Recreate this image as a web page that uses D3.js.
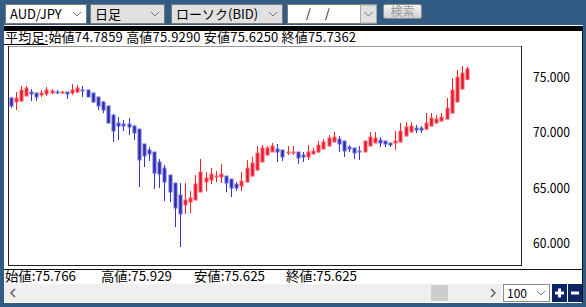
<!DOCTYPE html>
<html>
<head>
<meta charset="utf-8">
<script src="https://cdn.jsdelivr.net/npm/d3@7/dist/d3.min.js"></script>
<style>
  body { margin: 0; background: #335c85; }
  svg { display: block; }
  text { font-family: "Noto Sans CJK JP", "Noto Sans", sans-serif; }
</style>
</head>
<body>
<svg id="chart" width="586" height="307"></svg>
<script>
// Heikin-Ashi (平均足) candles, AUD/JPY daily
var opens = [
  73.11, 72.75, 72.84, 73.29, 73.65, 73.56, 73.38, 73.47, 73.56, 73.65,
  73.56, 73.65, 73.56, 73.65, 73.83, 73.83, 73.56, 73.20, 72.75, 72.39,
  71.57, 70.85, 70.76, 70.76, 70.58, 70.31, 68.96, 68.42, 68.24, 67.34,
  66.79, 66.16, 65.44, 64.36, 63.46, 63.73, 63.91, 64.63, 65.53, 65.71,
  65.98, 65.98, 66.07, 65.80, 65.35, 65.17, 65.53, 66.07, 66.61, 67.34,
  67.97, 68.24, 68.51, 68.42, 68.15, 68.15, 68.24, 67.97, 67.79, 68.06,
  68.24, 68.51, 68.78, 69.14, 69.41, 69.23, 68.69, 68.60, 68.33, 68.24,
  68.78, 69.05, 69.32, 69.23, 69.05, 69.05, 69.14, 69.68, 70.04, 70.40,
  70.40, 70.31, 70.58, 70.85, 71.03, 71.21, 71.75, 72.75, 73.92, 74.786
];
var closes = [
  72.39, 73.11, 73.83, 74.01, 73.47, 73.20, 73.56, 73.83, 73.74, 73.56,
  73.65, 73.47, 73.83, 74.01, 73.74, 73.20, 72.75, 72.39, 72.02, 70.85,
  70.13, 70.58, 70.58, 70.49, 69.95, 67.52, 67.88, 68.06, 66.34, 66.25,
  65.53, 64.63, 63.19, 62.65, 63.91, 64.09, 65.35, 66.43, 65.89, 66.25,
  66.07, 66.25, 65.44, 64.99, 64.99, 65.62, 66.79, 67.25, 68.15, 68.60,
  68.60, 68.78, 68.24, 67.79, 68.24, 68.24, 67.70, 67.79, 68.24, 68.33,
  68.87, 69.14, 69.50, 69.59, 68.96, 68.33, 68.51, 68.15, 68.24, 69.23,
  69.59, 69.50, 69.05, 68.96, 68.87, 69.23, 70.13, 70.49, 70.58, 70.22,
  70.22, 70.85, 71.30, 71.21, 71.39, 72.20, 73.83, 75.00, 75.36, 75.736
];
var highs = [
  73.20, 73.65, 74.19, 74.19, 73.92, 73.56, 73.83, 74.10, 73.92, 73.83,
  73.74, 73.65, 74.37, 74.28, 74.19, 73.83, 73.56, 73.20, 72.84, 72.39,
  71.66, 71.39, 71.12, 71.30, 70.67, 70.31, 68.96, 68.69, 68.24, 67.61,
  67.07, 66.16, 65.44, 65.44, 65.44, 64.72, 66.16, 67.61, 66.43, 66.79,
  66.52, 67.16, 66.07, 65.80, 65.53, 66.43, 67.52, 67.79, 68.78, 68.87,
  68.78, 69.05, 68.96, 68.42, 68.78, 68.78, 68.24, 68.24, 68.87, 68.60,
  69.23, 69.41, 69.77, 70.04, 69.68, 69.23, 68.87, 68.60, 68.78, 69.23,
  70.04, 70.04, 69.59, 69.23, 69.05, 70.13, 70.85, 70.94, 70.94, 70.67,
  70.58, 71.75, 71.75, 71.57, 71.75, 73.11, 74.91, 75.63, 75.99, 75.929
];
var lows = [
  72.20, 72.02, 72.75, 73.29, 72.84, 72.84, 73.20, 73.29, 73.47, 73.47,
  73.47, 73.02, 73.38, 73.56, 73.20, 73.20, 72.66, 72.02, 71.75, 70.85,
  69.14, 69.32, 70.13, 69.77, 69.32, 65.08, 66.88, 67.43, 64.90, 64.99,
  63.82, 63.73, 61.47, 59.67, 62.65, 62.74, 63.91, 64.63, 64.72, 65.35,
  65.53, 65.44, 64.63, 64.18, 64.72, 64.72, 65.53, 66.07, 66.61, 67.34,
  67.97, 68.24, 67.34, 67.43, 67.97, 67.97, 67.16, 67.34, 67.52, 68.06,
  68.15, 68.51, 68.78, 69.14, 68.24, 67.79, 68.24, 67.61, 67.52, 68.24,
  68.78, 69.05, 68.69, 68.69, 68.69, 68.42, 69.14, 69.68, 70.04, 69.95,
  69.95, 70.22, 70.58, 70.85, 71.03, 71.21, 71.75, 72.75, 73.92, 74.786
];

var yTicks = [60, 65, 70, 75];
var slots = 100;   // display count ("100")
var headerText = "平均足:始値74.7859  高値75.9290  安値75.6250  終値75.7362";
var footerLabels = ["始値:75.766", "高値:75.929", "安値:75.625", "終値:75.625"];
var selectLabels = ["AUD/JPY", "日足", "ローソク(BID)"];

var svg = d3.select('#chart');

// --- frame ---
svg.append('rect').attr('x', 0).attr('y', 0).attr('width', 586).attr('height', 307).attr('fill', '#335c85');
svg.append('rect').attr('x', 4).attr('y', 25).attr('width', 579).attr('height', 278).attr('fill', '#fff');
svg.append('rect').attr('x', 4).attr('y', 26).attr('width', 579).attr('height', 5).attr('fill', '#000');
svg.append('line').attr('x1', 582.5).attr('x2', 582.5).attr('y1', 26).attr('y2', 303).attr('stroke', '#111');

// --- toolbar ---
var boxes = [
  { x: 5, w: 81, bg: '#fff', label: selectLabels[0] },
  { x: 90, w: 74, bg: '#e1e1e1', label: selectLabels[1] },
  { x: 171, w: 111, bg: '#e1e1e1', label: selectLabels[2] }
];
function chevron(cx, cy) {
  svg.append('path')
    .attr('d', 'M' + (cx - 4) + ',' + (cy - 2) + 'L' + cx + ',' + (cy + 2) + 'L' + (cx + 4) + ',' + (cy - 2))
    .attr('fill', 'none').attr('stroke', '#777').attr('stroke-width', 1);
}
boxes.forEach(function(b) {
  svg.append('rect').attr('x', b.x + 0.5).attr('y', 4.5).attr('width', b.w).attr('height', 19)
    .attr('fill', b.bg).attr('stroke', '#7a7a7a');
  svg.append('text').attr('x', b.x + 5).attr('y', 19).attr('font-size', 13).attr('fill', '#000').text(b.label);
  chevron(b.x + b.w - 9, 14);
});
// date box
svg.append('rect').attr('x', 287.5).attr('y', 4.5).attr('width', 89).attr('height', 19).attr('fill', '#fff').attr('stroke', '#7a7a7a');
svg.append('rect').attr('x', 360.5).attr('y', 5).attr('width', 16).attr('height', 18).attr('fill', '#e1e1e1').attr('stroke', '#aaa');
svg.append('text').attr('x', 306).attr('y', 18).attr('font-size', 12).text('/');
svg.append('text').attr('x', 325).attr('y', 18).attr('font-size', 12).text('/');
chevron(368.5, 14);
// search button
var grad = svg.append('defs').append('linearGradient').attr('id', 'btn').attr('x1', 0).attr('x2', 0).attr('y1', 0).attr('y2', 1);
grad.append('stop').attr('offset', '0%').attr('stop-color', '#f6f6f6');
grad.append('stop').attr('offset', '100%').attr('stop-color', '#cfcfcf');
svg.append('rect').attr('x', 383.5).attr('y', 4.5).attr('width', 38).attr('height', 14).attr('rx', 2)
  .attr('fill', 'url(#btn)').attr('stroke', '#8d8d8d');
svg.append('text').attr('x', 402.5).attr('y', 16).attr('font-size', 12).attr('text-anchor', 'middle')
  .attr('fill', '#9a9a9a').text('検索');

// --- header info line ---
svg.append('text').attr('x', 5).attr('y', 42).attr('font-size', 13).attr('fill', '#000')
  .attr('textLength', 351).attr('lengthAdjust', 'spacing').text(headerText);
svg.append('line').attr('x1', 4).attr('x2', 48).attr('y1', 44.5).attr('y2', 44.5).attr('stroke', '#000');

// --- plot ---
var plotL = 8, plotR = 521, plotT = 46, plotB = 265;

var xScale = d3.scaleBand().domain(d3.range(slots)).range([plotL, plotR]);
var yScale = d3.scaleLinear().domain([58.05, 77.8]).range([plotB, plotT]);

svg.append('line').attr('x1', plotL).attr('x2', plotR).attr('y1', plotT + 0.5).attr('y2', plotT + 0.5).attr('stroke', '#9a9a9a');
svg.append('line').attr('x1', plotL + 0.5).attr('x2', plotL + 0.5).attr('y1', plotT).attr('y2', plotB).attr('stroke', '#222');
svg.append('line').attr('x1', plotR + 0.5).attr('x2', plotR + 0.5).attr('y1', plotT).attr('y2', plotB + 1).attr('stroke', '#222');
svg.append('line').attr('x1', plotL).attr('x2', plotR).attr('y1', plotB + 0.5).attr('y2', plotB + 0.5).attr('stroke', '#222');

var candles = opens.map(function(o, i) {
  return { i: i, o: o, h: highs[i], l: lows[i], c: closes[i] };
});

var g = svg.append('g');
var bw = xScale.bandwidth();

g.selectAll('line.wick')
  .data(candles)
  .enter()
  .append('line')
  .attr('class', 'wick')
  .attr('x1', function(d) { return Math.round(xScale(d.i) + bw / 2) + 0.5; })
  .attr('x2', function(d) { return Math.round(xScale(d.i) + bw / 2) + 0.5; })
  .attr('y1', function(d) { return yScale(d.h); })
  .attr('y2', function(d) { return yScale(d.l); })
  .attr('stroke', function(d) { return d.c >= d.o ? '#ff1e1e' : '#3535cc'; })
  .attr('stroke-width', 1);

g.selectAll('rect.body')
  .data(candles)
  .enter()
  .append('rect')
  .attr('class', 'body')
  .attr('x', function(d) { return Math.round(xScale(d.i) + bw / 2) - 1; })
  .attr('width', 3)
  .attr('y', function(d) { return yScale(Math.max(d.o, d.c)); })
  .attr('height', function(d) { return Math.max(1, Math.abs(yScale(d.o) - yScale(d.c))); })
  .attr('fill', function(d) { return d.c >= d.o ? '#e4162a' : '#2a2aae'; })
  .attr('stroke', function(d) { return d.c >= d.o ? '#ff5a66' : '#6a6ad8'; })
  .attr('stroke-width', 1);

// y axis on the right
var yAxis = d3.axisRight(yScale).tickValues(yTicks).tickFormat(d3.format('.3f')).tickSize(0).tickPadding(0);
var ax = svg.append('g').attr('transform', 'translate(533,0)').call(yAxis);
ax.select('.domain').remove();
ax.selectAll('text')
  .attr('font-family', '"Liberation Sans", Arial, sans-serif')
  .attr('font-size', 13)
  .attr('fill', '#000')
  .attr('textLength', 37)
  .attr('lengthAdjust', 'spacingAndGlyphs');

// --- footer ---
svg.append('line').attr('x1', 4).attr('x2', 583).attr('y1', 269.5).attr('y2', 269.5).attr('stroke', '#111');
var footX = [5, 101, 194, 286];
footerLabels.forEach(function(t, i) {
  svg.append('text').attr('x', footX[i]).attr('y', 281).attr('font-size', 13)
    .attr('textLength', 71).attr('lengthAdjust', 'spacingAndGlyphs').text(t);
});

// scrollbar
svg.append('rect').attr('x', 4).attr('y', 284).attr('width', 498).attr('height', 18).attr('fill', '#efefef');
svg.append('rect').attr('x', 431).attr('y', 285).attr('width', 17).attr('height', 16).attr('fill', '#cdcdcd');
svg.append('path').attr('d', 'M15,289L11,293L15,297').attr('fill', 'none').attr('stroke', '#606060').attr('stroke-width', 1.5);
svg.append('path').attr('d', 'M491,289L495,293L491,297').attr('fill', 'none').attr('stroke', '#606060').attr('stroke-width', 1.5);
// display count box
svg.append('rect').attr('x', 503.5).attr('y', 284.5).attr('width', 46).attr('height', 17).attr('fill', '#fff').attr('stroke', '#8a8a8a');
svg.append('text').attr('x', 507).attr('y', 298).attr('font-size', 12).text('100');
chevron(541, 293);
// zoom buttons
svg.append('rect').attr('x', 552).attr('y', 284).attr('width', 15).attr('height', 18).attr('fill', '#0c2466');
svg.append('rect').attr('x', 568).attr('y', 284).attr('width', 14).attr('height', 18).attr('fill', '#0c2466');
svg.append('path').attr('d', 'M555,293H564M559.5,288.5V297.5').attr('stroke', '#fff').attr('stroke-width', 3);
svg.append('path').attr('d', 'M571,293H579').attr('stroke', '#fff').attr('stroke-width', 3);
</script>
</body>
</html>
